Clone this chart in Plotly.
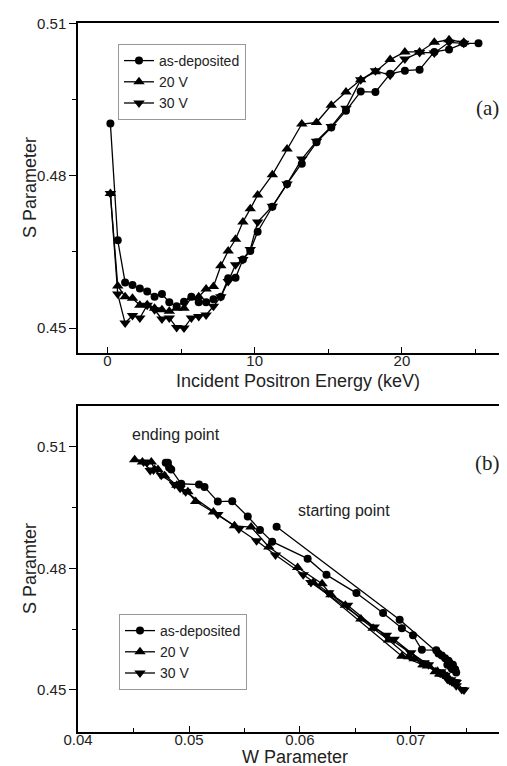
import plotly.graph_objects as go

# Panel (a): S parameter vs incident positron energy (keV)
energy_asdep = [0.2, 0.7, 1.2, 1.7, 2.2, 2.7, 3.2, 3.7, 4.2, 4.7, 5.2, 5.7, 6.2, 6.7, 7.2, 7.7,
                8.2, 8.7, 9.2, 9.7, 10.2, 11.2, 12.2, 13.2, 14.2, 15.2, 16.2, 17.2, 18.2, 19.2,
                20.2, 21.2, 22.2, 23.2, 24.2, 25.2]
energy_bias = [0.2, 0.7, 1.2, 1.7, 2.2, 2.7, 3.2, 3.7, 4.2, 4.7, 5.2, 5.7, 6.2, 6.7, 7.2, 7.7,
               8.2, 8.7, 9.2, 9.7, 10.2, 11.2, 12.2, 13.2, 14.2, 15.2, 16.2, 17.2, 18.2, 19.2,
               20.2, 21.2, 22.2, 23.2, 24.2]

s_asdep = [0.4903, 0.4673, 0.4590, 0.4585, 0.4578, 0.4572, 0.4562, 0.4567, 0.4551, 0.4543,
           0.4552, 0.4562, 0.4551, 0.4551, 0.4557, 0.4562, 0.4598, 0.4599, 0.4635, 0.4652,
           0.4690, 0.4739, 0.4784, 0.4824, 0.4866, 0.4895, 0.4928, 0.4966, 0.4965, 0.5001,
           0.5007, 0.5009, 0.5044, 0.5049, 0.5061, 0.5061]
s_20v = [0.4765, 0.4583, 0.4562, 0.4559, 0.4545, 0.4546, 0.4539, 0.4536, 0.4533, 0.4539,
         0.4539, 0.4560, 0.4562, 0.4577, 0.4582, 0.4623, 0.4652, 0.4675, 0.4709, 0.4735,
         0.4762, 0.4802, 0.4853, 0.4902, 0.4905, 0.4939, 0.4965, 0.4989, 0.5005, 0.5029,
         0.5044, 0.5044, 0.5063, 0.5068, 0.5063]
s_30v = [0.4765, 0.4567, 0.4510, 0.4525, 0.4520, 0.4545, 0.4536, 0.4518, 0.4520, 0.4501,
         0.4500, 0.4520, 0.4523, 0.4526, 0.4543, 0.4562, 0.4592, 0.4625, 0.4635, 0.4655,
         0.4709, 0.4740, 0.4784, 0.4833, 0.4868, 0.4897, 0.4933, 0.4989, 0.5007, 0.4998,
         0.5030, 0.5043, 0.5042, 0.5063, 0.5061]

# Panel (b): W parameter for the same points
w_asdep = [0.0579, 0.0690, 0.0725, 0.0728, 0.0731, 0.0734, 0.0738, 0.0735, 0.0739, 0.0741,
           0.0737, 0.0735, 0.0738, 0.0740, 0.0736, 0.0733, 0.0723, 0.0710, 0.0702, 0.0692,
           0.0675, 0.0651, 0.0624, 0.0607, 0.0575, 0.0564, 0.0553, 0.0539, 0.0526, 0.0514,
           0.0509, 0.0493, 0.0484, 0.0482, 0.0481, 0.0479]
w_20v = [0.0612, 0.0692, 0.0711, 0.0715, 0.0722, 0.0724, 0.0727, 0.0731, 0.0733, 0.0729,
         0.0726, 0.0716, 0.0712, 0.0703, 0.0698, 0.0680, 0.0666, 0.0655, 0.0641, 0.0628,
         0.0620, 0.0598, 0.0572, 0.0556, 0.0541, 0.0522, 0.0506, 0.0499, 0.0489, 0.0478,
         0.0472, 0.0469, 0.0466, 0.0451, 0.0458]
w_30v = [0.0610, 0.0712, 0.0741, 0.0736, 0.0738, 0.0727, 0.0731, 0.0741, 0.0737, 0.0746,
         0.0748, 0.0740, 0.0735, 0.0733, 0.0726, 0.0716, 0.0700, 0.0685, 0.0678, 0.0667,
         0.0643, 0.0626, 0.0603, 0.0578, 0.0561, 0.0545, 0.0526, 0.0497, 0.0487, 0.0492,
         0.0475, 0.0468, 0.0465, 0.0459, 0.0462]

names = ["as-deposited", "20 V", "30 V"]
symbols = ["circle", "triangle-up", "triangle-down"]
sizes = [8, 10, 10]

FONT = "Arial, Liberation Sans, sans-serif"

fig = go.Figure()

series_a = [(energy_asdep, s_asdep), (energy_bias, s_20v), (energy_bias, s_30v)]
series_b = [(w_asdep, s_asdep), (w_20v, s_20v), (w_30v, s_30v)]

for (x, y), name, sym, sz in zip(series_a, names, symbols, sizes):
    fig.add_trace(go.Scatter(
        x=x, y=y, name=name, mode="lines+markers",
        line=dict(color="black", width=1.3),
        marker=dict(symbol=sym, size=sz, color="black"),
        xaxis="x", yaxis="y", legend="legend",
    ))

for (x, y), name, sym, sz in zip(series_b, names, symbols, sizes):
    fig.add_trace(go.Scatter(
        x=x, y=y, name=name, mode="lines+markers",
        line=dict(color="black", width=1.3),
        marker=dict(symbol=sym, size=sz, color="black"),
        xaxis="x2", yaxis="y2", legend="legend2",
    ))

H = 766.0
W = 507.0

common_axis = dict(
    showgrid=False, zeroline=False, showline=True, linecolor="black", linewidth=1.5,
    tickfont=dict(family=FONT, size=15, color="#222"), tickcolor="black",
    automargin=False,
)

fig.update_layout(
    width=507, height=766,
    margin=dict(l=0, r=0, t=0, b=0),
    paper_bgcolor="white", plot_bgcolor="white",
    font=dict(family=FONT, color="black"),
    xaxis=dict(
        common_axis, domain=[70 / W, 1.0], range=[-2.0, 27.68], anchor="y",
        mirror=True, ticks="inside", ticklen=6, tick0=0, dtick=10, ticklabelstandoff=-7,
        minor=dict(ticks="inside", ticklen=4, dtick=5, tickcolor="black"),
    ),
    yaxis=dict(
        common_axis, domain=[1 - 345 / H, 1 - 15 / H], range=[0.4451, 0.5101], anchor="x",
        ticks="outside", ticklen=7, tick0=0.45, dtick=0.03, tickformat=".2f",
        minor=dict(ticks="outside", ticklen=4, dtick=0.015, tickcolor="black"),
    ),
    xaxis2=dict(
        common_axis, domain=[70 / W, 1.0], range=[0.03999, 0.0794], anchor="y2",
        mirror=True, ticks="inside", ticklen=6, tick0=0.04, dtick=0.01, tickformat=".2f",
        ticklabelstandoff=-7,
        minor=dict(ticks="inside", ticklen=4, dtick=0.005, tickcolor="black"),
    ),
    yaxis2=dict(
        common_axis, domain=[1 - 724 / H, 1 - 398 / H], range=[0.4396, 0.5201], anchor="x2",
        ticks="outside", ticklen=7, tick0=0.45, dtick=0.03, tickformat=".2f",
        minor=dict(ticks="outside", ticklen=4, dtick=0.015, tickcolor="black"),
    ),
    legend=dict(
        x=110 / W, y=1 - 36 / H, xanchor="left", yanchor="top",
        bordercolor="#999", borderwidth=1, bgcolor="white",
        font=dict(family=FONT, size=14, color="#222"), tracegroupgap=0,
    ),
    legend2=dict(
        x=111 / W, y=1 - 606 / H, xanchor="left", yanchor="top",
        bordercolor="#999", borderwidth=1, bgcolor="white",
        font=dict(family=FONT, size=14, color="#222"), tracegroupgap=0,
    ),
    showlegend=True,
)

title_font = dict(family=FONT, size=18, color="#222")
annots = [
    dict(text="S Parameter", x=22 / W, y=1 - 180 / H, textangle=-90, font=title_font),
    dict(text="Incident Positron Energy (keV)", x=290 / W, y=1 - 373 / H, font=title_font),
    dict(text="S Paramter", x=22 / W, y=1 - 561 / H, textangle=-90, font=title_font),
    dict(text="W Parameter", x=287 / W, y=1 - 749 / H, font=title_font),
    dict(text="(a)", x=479 / W, y=1 - 100 / H,
         font=dict(family="Liberation Serif, Times New Roman, serif", size=21, color="#222")),
    dict(text="(b)", x=479 / W, y=1 - 455 / H,
         font=dict(family="Liberation Serif, Times New Roman, serif", size=21, color="#222")),
    dict(text="ending point", x=168 / W, y=1 - 427 / H, font=dict(family=FONT, size=16, color="#222")),
    dict(text="starting point", x=336 / W, y=1 - 502 / H, font=dict(family=FONT, size=16, color="#222")),
]
for a in annots:
    fig.add_annotation(xref="paper", yref="paper", showarrow=False,
                       xanchor="center", yanchor="middle", **a)

fig.write_html("out.html")
